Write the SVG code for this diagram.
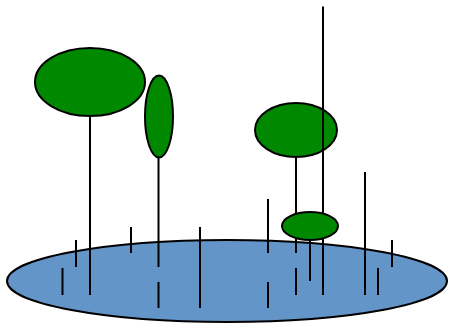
<svg xmlns="http://www.w3.org/2000/svg" width="449" height="326" viewBox="0 0 449 326">
<style>
.e{stroke:#000;stroke-width:2}
.b{fill:#6495c8}
.g{fill:#008800}
.l line{stroke:#000;stroke-width:2}
</style>
<rect width="449" height="326" fill="#fff"/>
<g id="pond"><ellipse class="e b" cx="227" cy="281" rx="220" ry="41"/></g>
<g class="l" id="connectors">
<line x1="62.5" y1="268" x2="62.5" y2="295"/>
<line x1="76" y1="240" x2="76" y2="267"/>
<line x1="90" y1="117" x2="90" y2="295"/>
<line x1="131" y1="227" x2="131" y2="253"/>
<line x1="158.5" y1="157" x2="158.5" y2="267"/>
<line x1="158.5" y1="282" x2="158.5" y2="308"/>
<line x1="200" y1="227" x2="200" y2="308"/>
<line x1="268" y1="199" x2="268" y2="253"/>
<line x1="268" y1="282" x2="268" y2="308"/>
<line x1="296" y1="157" x2="296" y2="253"/>
<line x1="296" y1="268" x2="296" y2="295"/>
<line x1="310" y1="240" x2="310" y2="281"/>
<line x1="365" y1="172" x2="365" y2="295"/>
<line x1="378" y1="268" x2="378" y2="295"/>
<line x1="392" y1="240" x2="392" y2="267"/>
</g>
<g id="n1"><ellipse class="e g" cx="90" cy="82" rx="55" ry="34"/></g>
<g id="n2"><ellipse class="e g" cx="159" cy="116.5" rx="14" ry="41"/></g>
<g id="n3"><ellipse class="e g" cx="296" cy="130" rx="41" ry="27"/></g>
<g class="l" id="connector-long"><line x1="323" y1="6.5" x2="323" y2="295"/></g>
<g id="n4"><ellipse class="e g" cx="310" cy="226" rx="28" ry="14"/></g>
</svg>
